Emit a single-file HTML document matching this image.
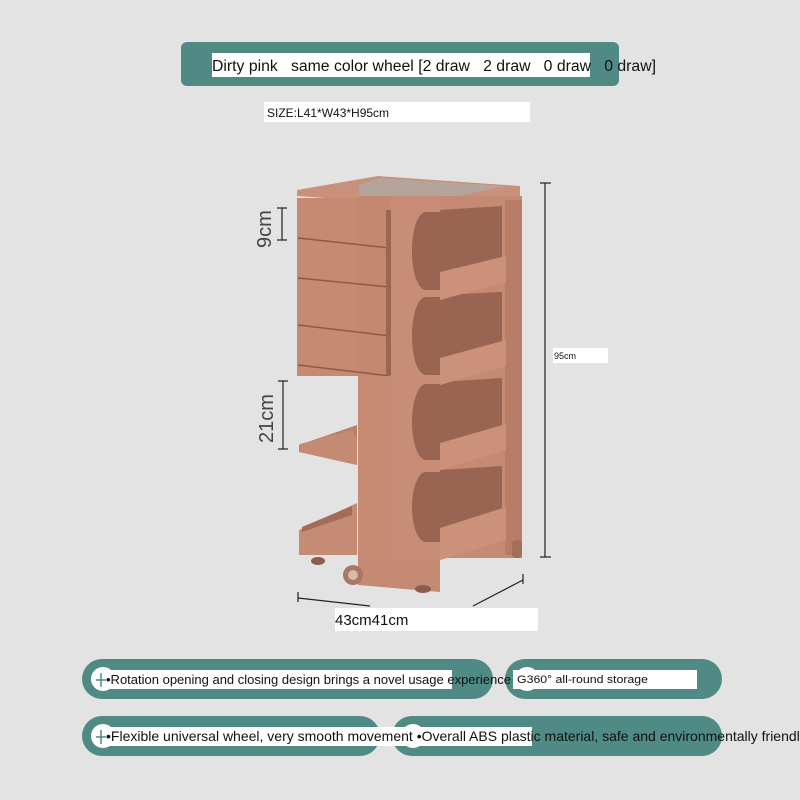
<!DOCTYPE html>
<html><head><meta charset="utf-8"><style>
body{margin:0;width:800px;height:800px;background:#e3e3e3;overflow:hidden;font-family:"Liberation Sans",sans-serif;}
</style></head><body>
<svg width="800" height="800" xmlns="http://www.w3.org/2000/svg" style="position:absolute;left:0;top:0">
<rect width="800" height="800" fill="#e3e3e3"/>
<!-- header -->
<rect x="181" y="42" width="438" height="44" rx="6" fill="#4f8a85"/>
<rect x="212" y="53" width="378" height="24" fill="#fff"/>
<text x="212" y="71" font-size="15.5" fill="#111" xml:space="preserve" textLength="444" lengthAdjust="spacingAndGlyphs">Dirty pink   same color wheel [2 draw   2 draw   0 draw   0 draw]</text>
<rect x="264" y="102" width="266" height="20" fill="#fff"/>
<text x="267" y="117" font-size="12" fill="#111">SIZE:L41*W43*H95cm</text>

<!-- cart -->
<g>
 <polygon points="297,190 378,176 520,186 520,196 440,206 297,196" fill="#c9917b"/>
 <polygon points="358,186 378,178 505,186 440,200 360,196" fill="#b5a49c"/>
 <rect x="297" y="198" width="61" height="178" fill="#c68a73"/>
 <rect x="358" y="196" width="33" height="180" fill="#c48770"/>
 <g stroke="#8e5947" stroke-width="1.5">
  <line x1="298" y1="238" x2="390" y2="248"/>
  <line x1="298" y1="278" x2="390" y2="287"/>
  <line x1="298" y1="325" x2="390" y2="336"/>
  <line x1="298" y1="365" x2="390" y2="376"/>
 </g>
 <rect x="386" y="210" width="5" height="165" fill="#9b6552"/>
 <rect x="358" y="376" width="82" height="205" fill="#c78b74"/>
 <rect x="391" y="196" width="49" height="390" fill="#c88d76"/>
 <path d="M358,585 L440,592 L440,560 L358,560Z" fill="#c58a73"/>
 <rect x="440" y="196" width="82" height="362" fill="#c58a73"/>
 <rect x="505" y="200" width="17" height="355" fill="#b87d67"/>
 <g fill="#9a6452">
  <path d="M440,210 L502,206 L502,260 L440,290 Z"/><path d="M440,212 L440,290 L425,290 A14,38 0 0 1 412,251 A14,38 0 0 1 425,212Z"/>
  <path d="M440,295 L502,292 L502,345 L440,375 Z"/><path d="M440,297 L440,375 L425,375 A14,38 0 0 1 412,336 A14,38 0 0 1 425,297Z"/>
  <path d="M440,382 L502,378 L502,428 L440,458 Z"/><path d="M440,384 L440,460 L425,460 A14,38 0 0 1 412,422 A14,38 0 0 1 425,384Z"/>
  <path d="M440,470 L502,466 L502,512 L440,540 Z"/><path d="M440,472 L440,542 L425,542 A14,35 0 0 1 412,507 A14,35 0 0 1 425,472Z"/>
 </g>
 <g fill="#cb917a">
  <polygon points="440,272 506,256 506,282 440,300"/>
  <polygon points="440,358 506,340 506,366 440,385"/>
  <polygon points="440,443 506,424 506,450 440,470"/>
  <polygon points="440,528 506,507 506,540 440,560"/>
 </g>
 <polygon points="299,445 357,425 357,465 299,452" fill="#b98069"/>
 <polygon points="300,444 352,430 357,440 357,465 300,452" fill="#c58a73"/>
 <polygon points="299,530 357,503 357,555 299,555" fill="#c68b74"/>
 <polygon points="302,527 352,506 352,515 302,532" fill="#a46c58"/>
 <circle cx="353" cy="575" r="10" fill="#a87765"/>
 <circle cx="353" cy="575" r="5" fill="#d9b9a8"/>
 <rect x="512" y="540" width="10" height="18" rx="4" fill="#a56e5b"/>
 <ellipse cx="318" cy="561" rx="7" ry="4" fill="#8d5d4c"/>
 <ellipse cx="423" cy="589" rx="8" ry="4" fill="#8d5d4c"/>
</g>

<g stroke="#222" stroke-width="1.2" fill="none">
 <line x1="545" y1="183" x2="545" y2="557"/><line x1="540" y1="183" x2="551" y2="183"/><line x1="540" y1="557" x2="551" y2="557"/>
 <line x1="282" y1="208" x2="282" y2="240"/><line x1="277" y1="208" x2="287" y2="208"/><line x1="277" y1="240" x2="287" y2="240"/>
 <line x1="283" y1="381" x2="283" y2="449"/><line x1="278" y1="381" x2="288" y2="381"/><line x1="278" y1="449" x2="288" y2="449"/>
 <line x1="298" y1="598" x2="370" y2="606"/><line x1="298" y1="592" x2="298" y2="602"/>
 <line x1="473" y1="606" x2="523" y2="580"/><line x1="523" y1="574" x2="523" y2="584"/>
</g>
<text transform="translate(271,248) rotate(-90)" font-size="20" fill="#444">9cm</text>
<text transform="translate(273,443) rotate(-90)" font-size="20" fill="#444">21cm</text>
<rect x="553" y="348" width="55" height="15" fill="#fff"/>
<text x="554" y="359" font-size="9" fill="#111">95cm</text>
<rect x="335" y="608" width="203" height="23" fill="#fff"/>
<text x="335" y="625" font-size="15" fill="#111">43cm41cm</text>

<rect x="82" y="659" width="411" height="40" rx="20" fill="#4f8a85"/>
<rect x="505" y="659" width="217" height="40" rx="20" fill="#4f8a85"/>
<rect x="82" y="716" width="298" height="40" rx="20" fill="#4f8a85"/>
<rect x="392" y="716" width="330" height="40" rx="20" fill="#4f8a85"/>
<circle cx="103" cy="679" r="12" fill="#fff"/>
<circle cx="527" cy="679" r="12" fill="#fff"/>
<circle cx="103" cy="736" r="12" fill="#fff"/>
<circle cx="413" cy="736" r="12" fill="#fff"/>
<rect x="107" y="670" width="345" height="19" fill="#fff"/>
<rect x="513" y="670" width="184" height="19" fill="#fff"/>
<rect x="107" y="727" width="425" height="19" fill="#fff"/>
<g stroke="#4f8a85" stroke-width="1.5"><line x1="96" y1="680" x2="106" y2="680"/><line x1="101" y1="673" x2="101" y2="687"/><line x1="96" y1="737" x2="106" y2="737"/><line x1="101" y1="730" x2="101" y2="744"/></g>
<text x="106" y="684" font-size="13" fill="#111">•Rotation opening and closing design brings a novel usage experience</text>
<text x="517" y="683" font-size="11" fill="#111" textLength="131" lengthAdjust="spacingAndGlyphs">G360° all-round storage</text>
<text x="106" y="741" font-size="14" fill="#111">•Flexible universal wheel, very smooth movement •Overall ABS plastic material, safe and environmentally friendly</text>
</svg>
</body></html>
